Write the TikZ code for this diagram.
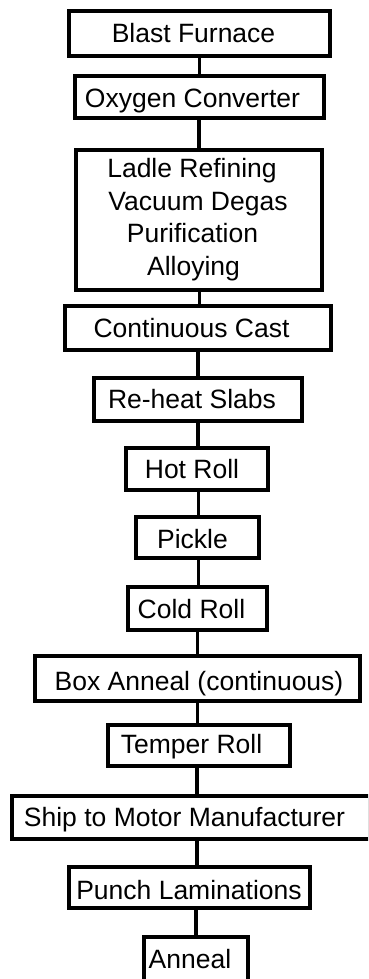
\documentclass[tikz,border=0pt]{standalone}
\usepackage{fontspec}
\setmainfont{Liberation Sans}
\begin{document}
\begin{tikzpicture}[x=1pt,y=-1pt,
  stagebox/.style={draw=black, line width=3.6pt, fill=white, inner sep=0pt, rectangle},
  lbl/.style={anchor=base, inner sep=0pt, font=\fontsize{26.5}{33}\selectfont},
  link/.style={line width=3.6pt}]
\useasboundingbox (0,0) rectangle (368,979);
\clip (0,0) rectangle (368,979);
\fill[white] (0,0) rectangle (368,979);

% process stages (centre, width, height)
\node[stagebox, minimum width=261.4pt, minimum height=45.4pt] (bf) at (199.5,33.5) {};
\node[stagebox, minimum width=249.4pt, minimum height=42.4pt] (oc) at (199.5,97) {};
\node[stagebox, minimum width=246.4pt, minimum height=140.4pt] (lr) at (199,220) {};
\node[stagebox, minimum width=266.4pt, minimum height=44.4pt] (cc) at (198,328) {};
\node[stagebox, minimum width=208.4pt, minimum height=43.4pt] (rh) at (198,399.5) {};
\node[stagebox, minimum width=142.4pt, minimum height=42.4pt] (hr) at (197,469) {};
\node[stagebox, minimum width=123.4pt, minimum height=41.4pt] (pk) at (197.5,537.5) {};
\node[stagebox, minimum width=139.4pt, minimum height=43.4pt] (cr) at (197.5,608.5) {};
\node[stagebox, minimum width=325.4pt, minimum height=45.4pt] (ba) at (197.5,678.5) {};
\node[stagebox, minimum width=182.4pt, minimum height=41.4pt] (tr) at (199,745.5) {};
\node[stagebox, minimum width=358.4pt, minimum height=43.4pt] (sh) at (191,817.5) {};
\node[stagebox, minimum width=241.4pt, minimum height=41.4pt] (pl) at (189.5,887.5) {};
\node[stagebox, minimum width=104.4pt, minimum height=46.4pt] (an) at (196,960) {};

% connectors between consecutive stages
\draw[link] (bf.south -| 199.5,0) -- (oc.north -| 199.5,0);
\draw[link] (oc.south -| 199,0) -- (lr.north -| 199,0);
\draw[link] (lr.south -| 199.5,0) -- (cc.north -| 199.5,0);
\draw[link] (cc.south -| 198,0) -- (rh.north -| 198,0);
\draw[link] (rh.south -| 198,0) -- (hr.north -| 198,0);
\draw[link] (hr.south -| 198.5,0) -- (pk.north -| 198.5,0);
\draw[link] (pk.south -| 198.5,0) -- (cr.north -| 198.5,0);
\draw[link] (cr.south -| 197.5,0) -- (ba.north -| 197.5,0);
\draw[link] (ba.south -| 197.5,0) -- (tr.north -| 197.5,0);
\draw[link] (tr.south -| 197,0) -- (sh.north -| 197,0);
\draw[link] (sh.south -| 197,0) -- (pl.north -| 197,0);
\draw[link] (pl.south -| 196,0) -- (an.north -| 196,0);

% stage labels
\node[lbl] (tbf) at (193.5,43) {Blast Furnace};
\node[lbl] (toc) at (192.5,107) {Oxygen Converter};
\node[lbl] (tlr1) at (192,177) {Ladle Refining};
\node[lbl] (tlr2) at (198,210) {Vacuum Degas};
\node[lbl] (tlr3) at (192.5,242) {Purification};
\node[lbl] (tlr4) at (193.5,275) {Alloying};
\node[lbl] (tcc) at (191.5,337) {Continuous Cast};
\node[lbl] (trh) at (192,408) {Re-heat Slabs};
\node[lbl] (thr) at (192,478) {Hot Roll};
\node[lbl] (tpk) at (192.5,548) {Pickle};
\node[lbl] (tcr) at (191.5,618) {Cold Roll};
\node[lbl] (tba) at (199,690) {Box Anneal (continuous)};
\node[lbl] (ttr) at (191.5,753) {Temper Roll};
\node[lbl] (tsh) at (184.5,826) {Ship to Motor Manufacturer};
\node[lbl] (tpl) at (189,899) {Punch Laminations};
\node[lbl] (tan) at (190,968) {Anneal};
\end{tikzpicture}
\end{document}
